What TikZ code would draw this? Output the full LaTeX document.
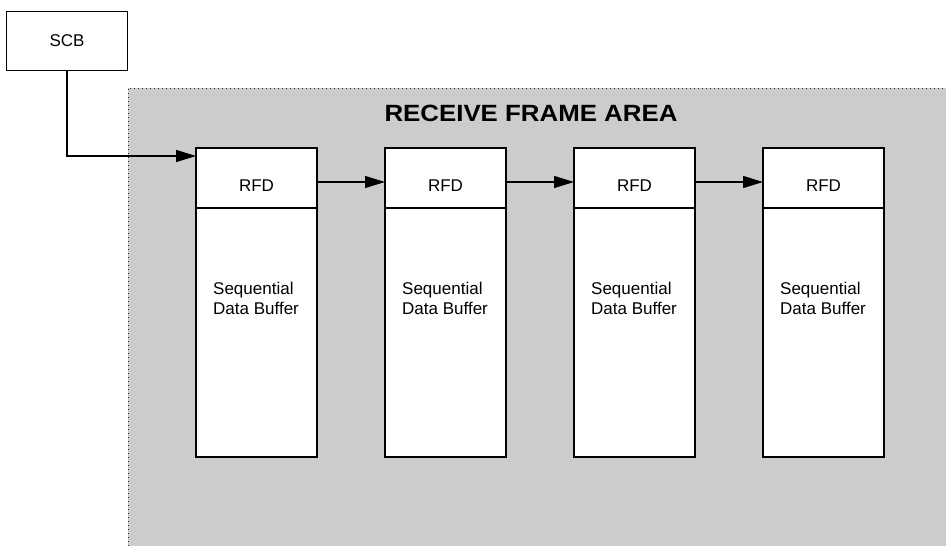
\documentclass[tikz,border=0pt]{standalone}
\usepackage{fontspec}
\setmainfont{Liberation Sans}
\newfontfamily\titlefont[FakeStretch=1.1]{Liberation Sans}
\usetikzlibrary{arrows.meta,positioning}
\definecolor{areaGray}{RGB}{204,204,204}
\definecolor{dotGray}{RGB}{40,40,40}

\begin{document}
\begin{tikzpicture}[x=1pt,y=-1pt,font=\fontsize{17}{20}\selectfont,
    box/.style={draw, line width=1.3pt, fill=white, minimum width=121pt, inner sep=0pt, outer sep=0pt},
    arr/.style={-{Triangle[length=20pt,width=12pt]}, line width=1.3pt}]
    \useasboundingbox (0,0) rectangle (946,546);

    % receive frame area
    \fill[areaGray] (128,88) rectangle (946,546);
    \draw[dotGray, line width=1pt, dash pattern=on 1pt off 3pt] (128,546) -- (128,88) -- (946,88);
    \node[font=\titlefont\fontsize{23.5}{28}\selectfont\bfseries] (title) at (531,113) {RECEIVE FRAME AREA};

    \node[box, minimum height=59pt] (scb) at (67,41) {SCB};

    % frames
    \foreach \i in {1,...,4} {
        \node[box, minimum height=60pt, text height=26pt, text depth=0pt, anchor=north west]
            (rfd\i) at ({196+189*(\i-1)},148) {RFD};
        \node[box, minimum height=249pt, anchor=north] (buf\i) at (rfd\i.south) {};
        \node[align=left, anchor=north west, inner sep=0pt]
            (txt\i) at ([shift={(17pt,-74pt)}]buf\i.north west) {Sequential\\Data Buffer};
    }

    % links
    \draw[arr] (scb.south) |- ([yshift=-8pt]rfd1.north west);
    \foreach \j [count=\i] in {2,3,4}
        \draw[arr] ([yshift=-4pt]rfd\i.east) -- ([yshift=-4pt]rfd\j.west);

\end{tikzpicture}
\end{document}
